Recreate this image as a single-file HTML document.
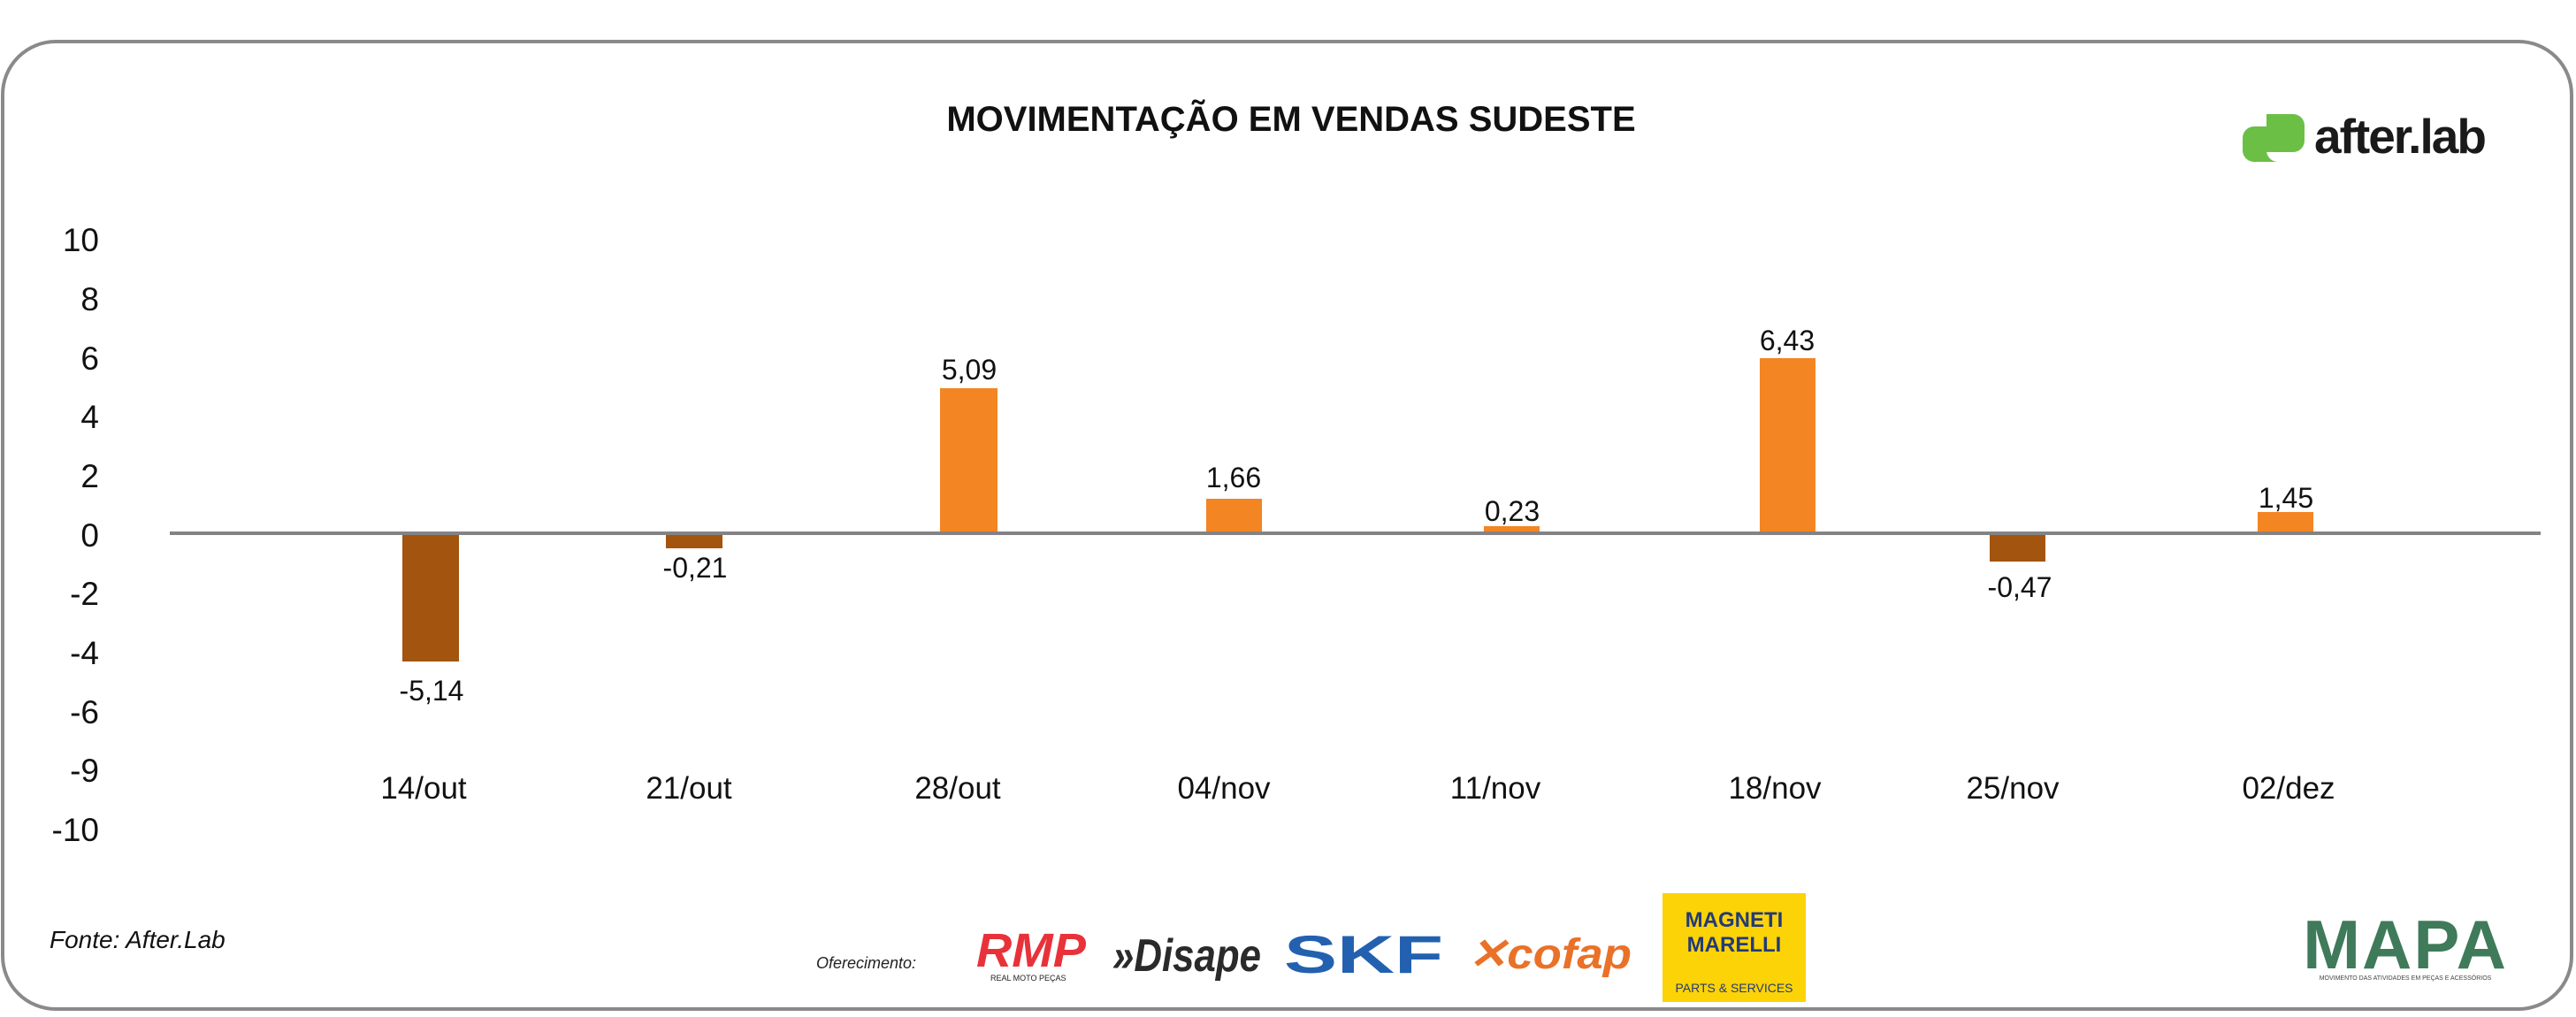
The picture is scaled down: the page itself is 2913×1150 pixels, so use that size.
<!DOCTYPE html>
<html><head><meta charset="utf-8"><style>
html,body{margin:0;padding:0;background:#fff;}
body{width:2913px;height:1145px;overflow:hidden;}
</style></head><body>
<svg width="2913" height="1145" viewBox="0 0 2913 1145" xmlns="http://www.w3.org/2000/svg" font-family="Liberation Sans, sans-serif">
<rect x="3" y="47" width="2905" height="1094" rx="60" ry="60" fill="#fff" stroke="#8a8a8c" stroke-width="4"/>
<text x="1460" y="148" font-size="40" font-weight="bold" text-anchor="middle" fill="#111">MOVIMENTAÇÃO EM VENDAS SUDESTE</text>
<path d="M2563 129 h30 a13 13 0 0 1 13 13 v17 a13 13 0 0 1 -13 13 h-30 z" fill="#6cbf45"/>
<path d="M2563 143 v27 a13 13 0 0 0 13 13 h-27 a13 13 0 0 1 -13 -13 v-14 a13 13 0 0 1 13 -13 z" fill="#6cbf45"/>
<rect x="2549" y="143" width="14" height="40" fill="#6cbf45"/>
<text x="2617" y="173" font-size="55" font-weight="bold" fill="#1a1a1a" letter-spacing="-2">after.lab</text>
<g font-size="37" fill="#111" text-anchor="end">
<text x="112" y="284">10</text><text x="112" y="351">8</text><text x="112" y="418">6</text><text x="112" y="484">4</text><text x="112" y="551">2</text><text x="112" y="618">0</text><text x="112" y="684">-2</text><text x="112" y="751">-4</text><text x="112" y="818">-6</text><text x="112" y="884">-9</text><text x="112" y="951">-10</text>
</g>
<rect x="455" y="603" width="64" height="145" fill="#a3540f"/>
<rect x="753" y="603" width="64" height="17" fill="#a3540f"/>
<rect x="1063" y="439" width="65" height="164" fill="#f38523"/>
<rect x="1364" y="564" width="63" height="39" fill="#f38523"/>
<rect x="1678" y="595" width="63" height="8" fill="#f38523"/>
<rect x="1990" y="405" width="63" height="198" fill="#f38523"/>
<rect x="2250" y="603" width="63" height="32" fill="#a3540f"/>
<rect x="2553" y="579" width="63" height="24" fill="#f38523"/>
<rect x="192" y="601" width="2681" height="4" fill="#838386"/>
<g font-size="32" fill="#111" text-anchor="middle">
<text x="488" y="792">-5,14</text><text x="786" y="653">-0,21</text><text x="1096" y="429">5,09</text><text x="1395" y="551">1,66</text><text x="1710" y="589">0,23</text><text x="2021" y="396">6,43</text><text x="2284" y="675">-0,47</text><text x="2585" y="574">1,45</text>
</g>
<g font-size="35" fill="#111" text-anchor="middle">
<text x="479" y="903">14/out</text><text x="779" y="903">21/out</text><text x="1083" y="903">28/out</text><text x="1384" y="903">04/nov</text><text x="1691" y="903">11/nov</text><text x="2007" y="903">18/nov</text><text x="2276" y="903">25/nov</text><text x="2588" y="903">02/dez</text>
</g>
<text x="56" y="1072" font-size="28" font-style="italic" fill="#111">Fonte: After.Lab</text>
<text x="923" y="1095" font-size="18" font-style="italic" fill="#222">Oferecimento:</text>
<text x="1104" y="1093" font-size="54" font-weight="bold" font-style="italic" fill="#e8323a" textLength="124" lengthAdjust="spacingAndGlyphs">RMP</text>
<text x="1120" y="1109" font-size="9" fill="#222">REAL MOTO PEÇAS</text>
<text x="1258" y="1098" font-size="52" font-weight="bold" font-style="italic" fill="#2a2a2a" textLength="168" lengthAdjust="spacingAndGlyphs">»Disape</text>
<text x="1452" y="1100" font-size="60" font-weight="bold" fill="#2361b0" textLength="180" lengthAdjust="spacingAndGlyphs">SKF</text>
<text x="1660" y="1095" font-size="48" font-weight="bold" font-style="italic" fill="#ea7128" textLength="185" lengthAdjust="spacingAndGlyphs">✕cofap</text>
<rect x="1880" y="1010" width="162" height="123" fill="#fcd307"/>
<text x="1961" y="1048" font-size="24" font-weight="bold" fill="#233a78" text-anchor="middle">MAGNETI</text>
<text x="1961" y="1076" font-size="24" font-weight="bold" fill="#233a78" text-anchor="middle">MARELLI</text>
<text x="1961" y="1122" font-size="14" fill="#233a78" text-anchor="middle">PARTS &amp; SERVICES</text>
<text x="2720" y="1095" font-size="78" font-weight="bold" fill="#3f7a5a" text-anchor="middle" letter-spacing="2">MAPA</text>
<text x="2720" y="1108" font-size="7" fill="#444" text-anchor="middle">MOVIMENTO DAS ATIVIDADES EM PEÇAS E ACESSÓRIOS</text>
</svg>
</body></html>
